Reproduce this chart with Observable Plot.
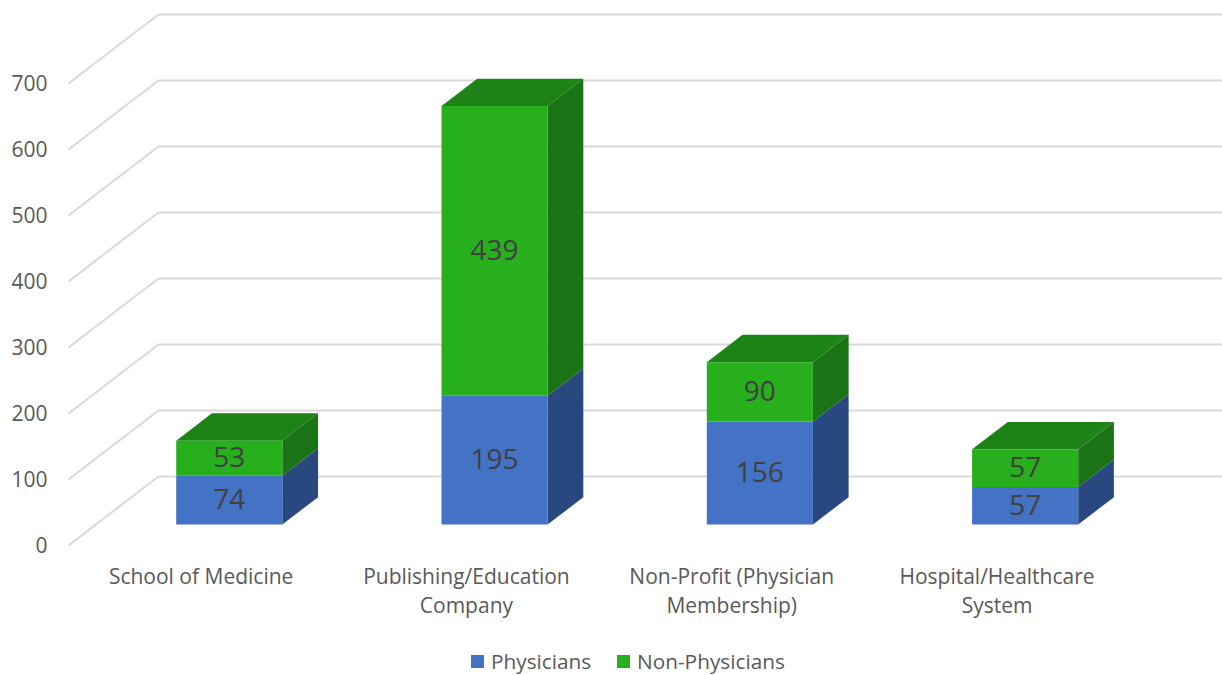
<!DOCTYPE html>
<html>
<head>
<meta charset="utf-8">
<script src="https://cdn.jsdelivr.net/npm/d3@7"></script>
<script src="https://cdn.jsdelivr.net/npm/@observablehq/plot@0.6"></script>
<style>
  html, body { margin: 0; padding: 0; background: #fff; }
  #legend { height: 35px; position: relative; font: 20.8px "Open Sans", sans-serif; color: #595959; }
  #legend .item { position: absolute; top: 7px; display: flex; align-items: center; gap: 7px; line-height: 28px; }
  #legend .swatch { width: 13px; height: 13px; display: inline-block; }
</style>
</head>
<body>
<div id="chart"></div>
<div id="legend"></div>
<script>
const categories = ["School of Medicine", "Publishing/Education\nCompany", "Non-Profit (Physician\nMembership)", "Hospital/Healthcare\nSystem"];
const physicians = [74, 195, 156, 57];
const nonPhysicians = [53, 439, 90, 57];
const yTicks = [0, 100, 200, 300, 400, 500, 600, 700];
const seriesNames = ["Physicians", "Non-Physicians"];
const frontColors = ["#4472C4", "#27AF1E"];
const sideColors = ["#2A4880", "#1A7314"];
const topColor = "#1E8317";

// Oblique 3D projection expressed in data units: one full depth of the floor
// moves a point right by wallX categories and up by wallY value units.
const wallX = 0.339, wallY = 104.5;
const baseDepth = 0.304, barDepth = 0.397, halfBar = 0.2;
const project = (u, v, d) => ({x: u + d * wallX, y: v + d * wallY});

const sides = [], fronts = [], tops = [], labels = [];
categories.forEach((c, i) => {
  const u = i + 0.503;
  const stack = [[0, physicians[i]], [physicians[i], physicians[i] + nonPhysicians[i]]];
  const [d0, d1] = [baseDepth, baseDepth + barDepth];
  const [l, r] = [u - halfBar, u + halfBar];
  stack.forEach(([v0, v1], s) => {
    const id = `${i}-${s}`;
    const poly = (arr, pts, fill) => pts.forEach(([a, b, d]) => arr.push({id, ...project(a, b, d), fill}));
    poly(sides, [[r, v0, d0], [r, v0, d1], [r, v1, d1], [r, v1, d0]], sideColors[s]);
    poly(fronts, [[l, v0, d0], [r, v0, d0], [r, v1, d0], [l, v1, d0]], frontColors[s]);
    if (s === 1) poly(tops, [[l, v1, d0], [r, v1, d0], [r, v1, d1], [l, v1, d1]], topColor);
    labels.push({...project(u, (v0 + v1) / 2, d0), text: String(v1 - v0)});
  });
});

const face = (rows) => Plot.line(rows, {x: "x", y: "y", z: "id", fill: "fill", stroke: "none", curve: "linear"});

const plot = Plot.plot({
  width: 1222,
  height: 640,
  margin: 0,
  style: {fontFamily: '"Open Sans", sans-serif', background: "#fff", overflow: "visible"},
  x: {type: "linear", domain: [0, 4.35], range: [68, 1222], axis: null},
  y: {type: "linear", domain: [0, 700], range: [545, 83], axis: null},
  color: {type: "identity"},
  marks: [
    Plot.ruleY(yTicks, {y: (v) => v + wallY, x1: wallX, x2: 4.35, stroke: "#d9d9d9", strokeWidth: 2}),
    Plot.link(yTicks, {x1: 0, y1: (v) => v, x2: wallX, y2: (v) => v + wallY, stroke: "#d9d9d9", strokeWidth: 2}),
    face(sides),
    face(tops),
    face(fronts),
    Plot.text(labels, {x: "x", y: "y", text: "text", fontSize: 28, fill: "#404040"}),
    Plot.text(yTicks, {x: () => 0, y: (v) => v, text: (v) => String(v), textAnchor: "end", dx: -21, dy: 1, fontSize: 21, fill: "#595959"}),
    Plot.text(categories, {x: (c, i) => i + 0.5, y: () => 0, text: (c) => c, dy: 18, lineAnchor: "top", lineHeight: 1.38, fontSize: 21, fill: "#595959"})
  ]
});
document.getElementById("chart").appendChild(plot);

const legend = document.getElementById("legend");
const lefts = [471, 617];
seriesNames.forEach((name, i) => {
  const item = document.createElement("div");
  item.className = "item";
  item.style.left = lefts[i] + "px";
  const sw = document.createElement("span");
  sw.className = "swatch";
  sw.style.background = frontColors[i];
  item.append(sw, name);
  legend.append(item);
});
</script>
</body>
</html>
